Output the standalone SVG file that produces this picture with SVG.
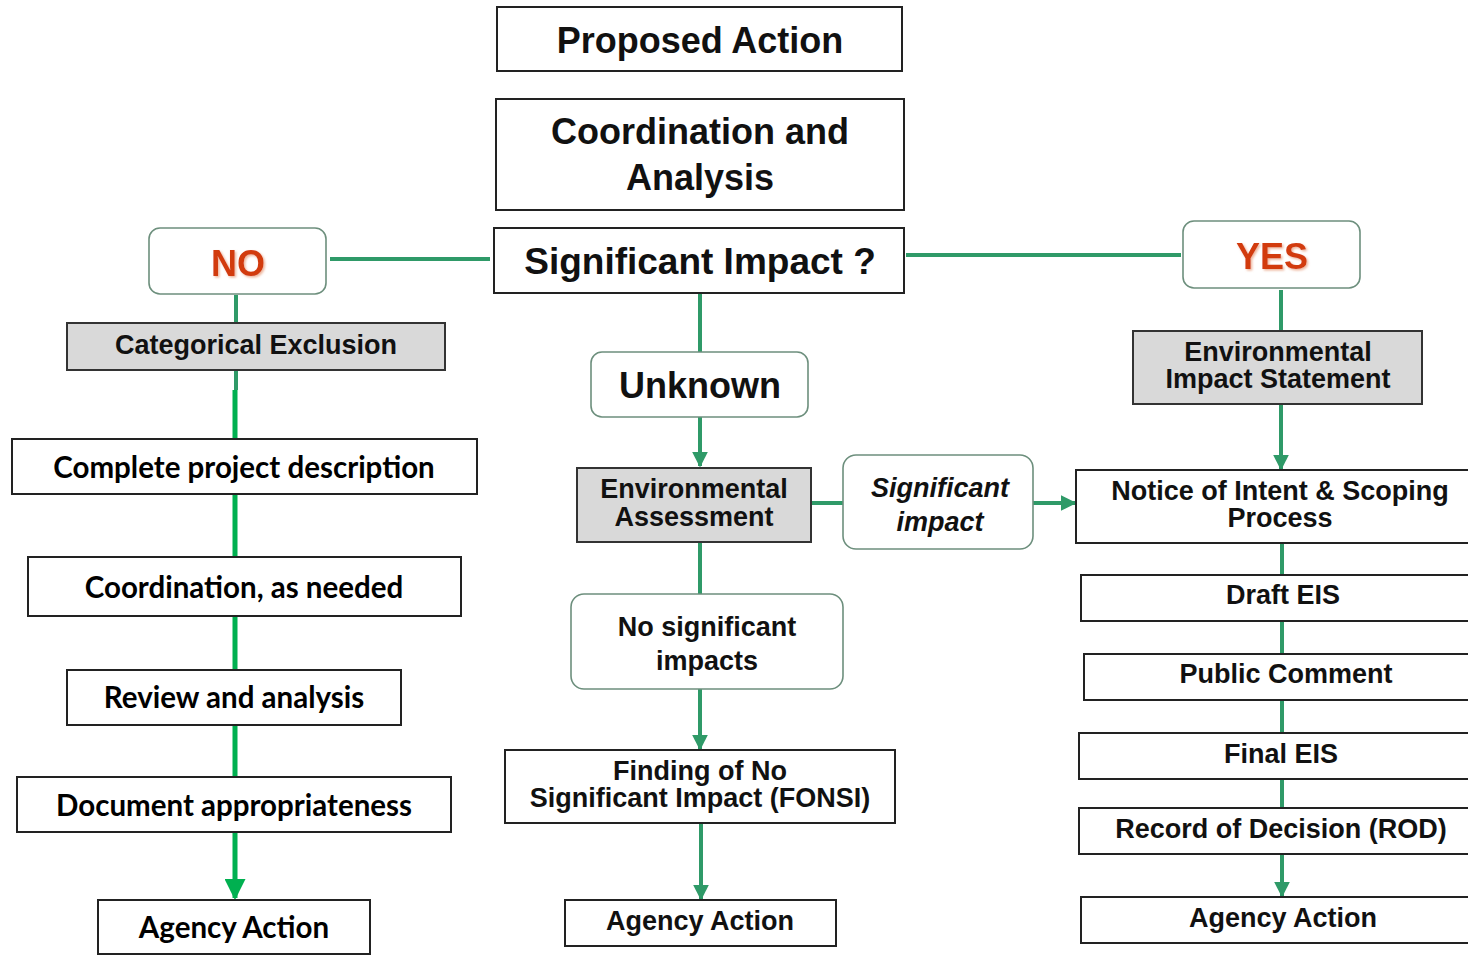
<svg xmlns="http://www.w3.org/2000/svg" width="1468" height="969" viewBox="0 0 1468 969">
<defs>
<style>
.box{fill:#fff;stroke:#222;stroke-width:2}
.gray{fill:#d9d9d9;stroke:#333;stroke-width:2}
.rnd{fill:#fff;stroke:#6d8f7d;stroke-width:1.6}
.t{font-family:"Liberation Sans",Arial,sans-serif;font-weight:bold;fill:#111;text-anchor:middle}
.c{font-family:Lato,"Open Sans",sans-serif;font-weight:bold;fill:#000;text-anchor:middle;font-size:29.5px}
.red{font-family:"Liberation Sans",Arial,sans-serif;font-weight:bold;fill:#d23a0e;text-anchor:middle;font-size:36px}
.g{stroke:#2f9a68;stroke-width:4;fill:none}
.gb{stroke:#00b050;stroke-width:5;fill:none}
</style>
<marker id="ah" viewBox="0 0 10 10" refX="9" refY="5" markerWidth="4" markerHeight="4" orient="auto" markerUnits="strokeWidth">
<path d="M0,0 L10,5 L0,10 z" fill="#2f9a68"/>
</marker>
<marker id="ahb" viewBox="0 0 10 10" refX="9" refY="5" markerWidth="4.2" markerHeight="4.2" orient="auto" markerUnits="strokeWidth">
<path d="M0,0 L10,5 L0,10 z" fill="#00b050"/>
</marker>
<filter id="sh" x="-20%" y="-20%" width="140%" height="140%">
<feDropShadow dx="1.5" dy="1.5" stdDeviation="1" flood-color="#e8a080" flood-opacity="0.8"/>
</filter>
</defs>
<rect width="1468" height="969" fill="#fff"/>

<g id="connectors">
<line class="g" x1="330" y1="259" x2="490" y2="259"/>
<line class="g" x1="906" y1="255" x2="1181" y2="255"/>
<line class="g" x1="236" y1="295" x2="236" y2="323"/>
<line class="g" x1="236" y1="370" x2="236" y2="390"/>
<line class="gb" x1="235" y1="390" x2="235" y2="898" marker-end="url(#ahb)"/>
<line class="g" x1="1281" y1="290" x2="1281" y2="331"/>
<line class="g" x1="1281" y1="404" x2="1281" y2="469" marker-end="url(#ah)"/>
<line class="g" x1="1282" y1="543" x2="1282" y2="896" marker-end="url(#ah)"/>
<line class="g" x1="700" y1="293" x2="700" y2="352"/>
<line class="g" x1="700" y1="417" x2="700" y2="466" marker-end="url(#ah)"/>
<line class="g" x1="811" y1="503" x2="843" y2="503"/>
<line class="g" x1="1033" y1="503" x2="1075" y2="503" marker-end="url(#ah)"/>
<line class="g" x1="700" y1="542" x2="700" y2="594"/>
<line class="g" x1="700" y1="689" x2="700" y2="749" marker-end="url(#ah)"/>
<line class="g" x1="701" y1="823" x2="701" y2="899" marker-end="url(#ah)"/>
</g>

<g id="proposed-action">
<rect class="box" x="497" y="7" width="405" height="64"/>
<text class="t" x="700" y="53" font-size="36">Proposed Action</text>
</g>
<g id="coordination-analysis">
<rect class="box" x="496" y="99" width="408" height="111"/>
<text class="t" x="700" y="144" font-size="36">Coordination and</text>
<text class="t" x="700" y="190" font-size="36">Analysis</text>
</g>
<g id="significant-impact">
<rect class="box" x="494" y="228" width="410" height="65"/>
<text class="t" x="700" y="274" font-size="37">Significant Impact ?</text>
</g>
<g id="no">
<rect class="rnd" x="149" y="228" width="177" height="66" rx="11"/>
<text class="red" x="238" y="276" filter="url(#sh)">NO</text>
</g>
<g id="yes">
<rect class="rnd" x="1183" y="221" width="177" height="67" rx="11"/>
<text class="red" x="1272" y="269" filter="url(#sh)">YES</text>
</g>
<g id="categorical-exclusion">
<rect class="gray" x="67" y="323" width="378" height="47"/>
<text class="t" x="256" y="354" font-size="27">Categorical Exclusion</text>
</g>
<g id="complete-project">
<rect class="box" x="12" y="439" width="465" height="55"/>
<text class="c" x="244" y="478">Complete project description</text>
</g>
<g id="coordination-needed">
<rect class="box" x="28" y="557" width="433" height="59"/>
<text class="c" x="244" y="598">Coordination, as needed</text>
</g>
<g id="review-analysis">
<rect class="box" x="67" y="670" width="334" height="55"/>
<text class="c" x="234" y="708">Review and analysis</text>
</g>
<g id="document-appropriateness">
<rect class="box" x="17" y="777" width="434" height="55"/>
<text class="c" x="234" y="816">Document appropriateness</text>
</g>
<g id="agency-action-left">
<rect class="box" x="98" y="900" width="272" height="54"/>
<text class="c" x="234" y="938">Agency Action</text>
</g>

<g id="unknown">
<rect class="rnd" x="591" y="352" width="217" height="65" rx="11"/>
<text class="t" x="700" y="398" font-size="36">Unknown</text>
</g>
<g id="environmental-assessment">
<rect class="gray" x="577" y="468" width="234" height="74"/>
<text class="t" x="694" y="498" font-size="27">Environmental</text>
<text class="t" x="694" y="526" font-size="27">Assessment</text>
</g>
<g id="significant-impact-ea">
<rect class="rnd" x="843" y="455" width="190" height="94" rx="13"/>
<text class="t" x="940" y="497" font-size="27" font-style="italic">Significant</text>
<text class="t" x="940" y="531" font-size="27" font-style="italic">impact</text>
</g>
<g id="no-significant-impacts">
<rect class="rnd" x="571" y="594" width="272" height="95" rx="13"/>
<text class="t" x="707" y="636" font-size="27">No significant</text>
<text class="t" x="707" y="670" font-size="27">impacts</text>
</g>
<g id="fonsi">
<rect class="box" x="505" y="750" width="390" height="73"/>
<text class="t" x="700" y="780" font-size="27">Finding of No</text>
<text class="t" x="700" y="807" font-size="27">Significant Impact (FONSI)</text>
</g>
<g id="agency-action-middle">
<rect class="box" x="565" y="900" width="271" height="46"/>
<text class="t" x="700" y="930" font-size="27">Agency Action</text>
</g>

<g id="eis">
<rect class="gray" x="1133" y="331" width="289" height="73"/>
<text class="t" x="1278" y="361" font-size="27">Environmental</text>
<text class="t" x="1278" y="388" font-size="27">Impact Statement</text>
</g>
<g id="notice-of-intent">
<rect class="box" x="1076" y="470" width="400" height="73"/>
<text class="t" x="1280" y="500" font-size="27">Notice of Intent &amp; Scoping</text>
<text class="t" x="1280" y="527" font-size="27">Process</text>
</g>
<g id="draft-eis">
<rect class="box" x="1081" y="575" width="400" height="46"/>
<text class="t" x="1283" y="604" font-size="27">Draft EIS</text>
</g>
<g id="public-comment">
<rect class="box" x="1084" y="654" width="400" height="46"/>
<text class="t" x="1286" y="683" font-size="27">Public Comment</text>
</g>
<g id="final-eis">
<rect class="box" x="1079" y="733" width="400" height="46"/>
<text class="t" x="1281" y="763" font-size="27">Final EIS</text>
</g>
<g id="rod">
<rect class="box" x="1079" y="808" width="400" height="46"/>
<text class="t" x="1281" y="838" font-size="27">Record of Decision (ROD)</text>
</g>
<g id="agency-action-right">
<rect class="box" x="1081" y="897" width="400" height="46"/>
<text class="t" x="1283" y="927" font-size="27">Agency Action</text>
</g>
</svg>
